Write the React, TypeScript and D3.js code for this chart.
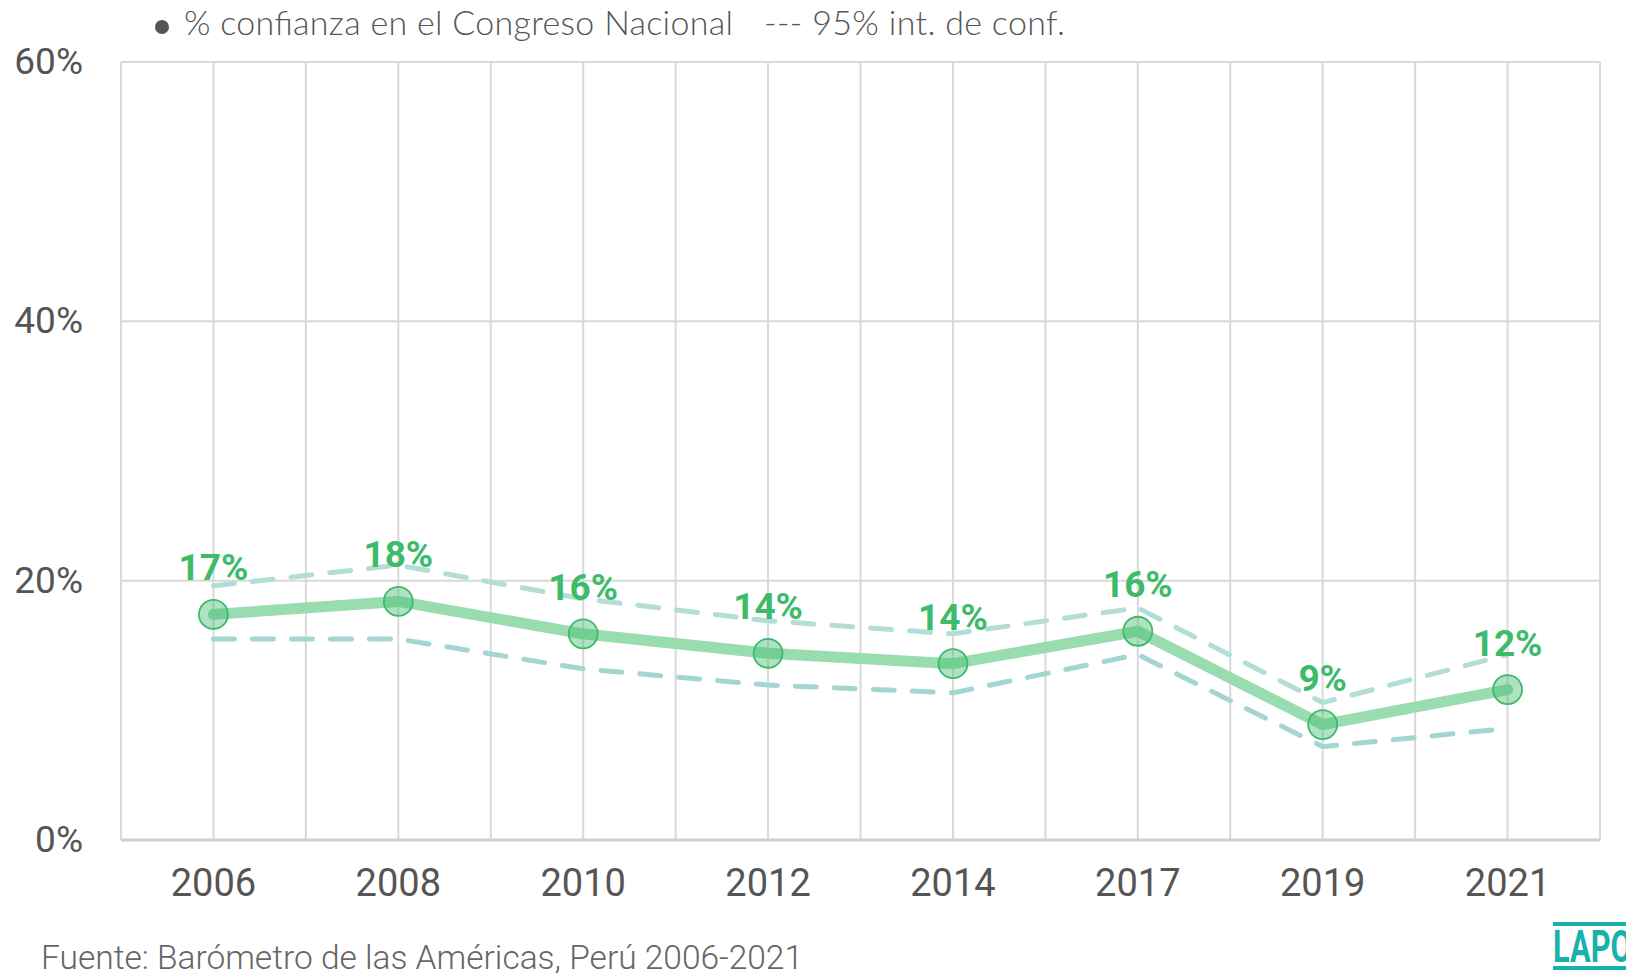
import React from "react";
import * as d3 from "d3";

const years = ["2006", "2008", "2010", "2012", "2014", "2017", "2019", "2021"];
const confianza = [17.4, 18.4, 15.9, 14.4, 13.6, 16.1, 8.9, 11.6];
const upperCI = [19.6, 21.2, 18.6, 16.9, 15.9, 17.9, 10.6, 14.3];
const lowerCI = [15.5, 15.5, 13.2, 11.95, 11.35, 14.3, 7.2, 8.6];
const yTicks = [0, 20, 40, 60];

const W = 1626;
const H = 974;
const M = { left: 121, right: 1600, top: 62, bottom: 840 };

export default function App() {
  const x = d3.scalePoint<string>().domain(years).range([M.left, M.right]).padding(0.5);
  const y = d3.scaleLinear().domain([0, 60]).range([M.bottom, M.top]);
  const half = x.step() / 2;
  const vLines = d3.range(years.length * 2 + 1).map((i) => M.left + i * half);

  const line = d3
    .line<number>()
    .x((_, i) => x(years[i]) as number)
    .y((d) => y(d));

  const green = "#3dbb6b";
  const font = "Roboto, sans-serif";
  const legendFont = "Lato, Roboto, sans-serif";

  return (
    <svg
      width={W}
      height={H}
      style={{ position: "absolute", left: 0, top: 0, background: "#fff" }}
    >
      {/* grid */}
      {vLines.map((vx, i) => (
        <line key={"v" + i} x1={vx} x2={vx} y1={M.top} y2={M.bottom} stroke="#d9d9d9" strokeWidth={2} />
      ))}
      {yTicks.map((t) => (
        <line
          key={"h" + t}
          x1={M.left}
          x2={M.right}
          y1={y(t)}
          y2={y(t)}
          stroke={t === 0 ? "#cfcfcf" : "#d9d9d9"}
          strokeWidth={t === 0 ? 3 : 2}
        />
      ))}
      {yTicks.map((t) => (
        <text
          key={"yl" + t}
          x={83}
          y={y(t) + 12}
          textAnchor="end"
          fontFamily={font}
          fontSize={37}
          fill="#555"
        >
          {t + "%"}
        </text>
      ))}
      {years.map((yr) => (
        <text
          key={"xl" + yr}
          x={x(yr)}
          y={896}
          textAnchor="middle"
          fontFamily={font}
          fontSize={38}
          fill="#555"
        >
          {yr}
        </text>
      ))}

      {/* CI lines */}
      <path
        d={line(upperCI) || ""}
        fill="none"
        stroke="#b3ded8"
        strokeWidth={5}
        strokeDasharray="21 18"
        strokeLinecap="round"
      />
      <path
        d={line(lowerCI) || ""}
        fill="none"
        stroke="#a4d6d1"
        strokeWidth={5}
        strokeDasharray="21 18"
        strokeLinecap="round"
      />

      {/* main line */}
      <path
        d={line(confianza) || ""}
        fill="none"
        stroke="#98dcb0"
        strokeWidth={11}
        strokeLinecap="round"
        strokeLinejoin="round"
      />
      {confianza.map((v, i) => (
        <circle
          key={"c" + i}
          cx={x(years[i])}
          cy={y(v)}
          r={14.5}
          fill="rgba(61,187,107,0.42)"
          stroke={green}
          strokeWidth={1.8}
        />
      ))}
      {confianza.map((v, i) => (
        <text
          key={"lab" + i}
          x={x(years[i])}
          y={y(v) - 34}
          textAnchor="middle"
          fontFamily={font}
          fontWeight={700}
          fontSize={37}
          fill={green}
        >
          {Math.round(v) + "%"}
        </text>
      ))}

      {/* legend */}
      <circle cx={162} cy={27} r={7} fill="#555" />
      <text
        x={184}
        y={35}
        fontFamily={legendFont}
        fontWeight={300}
        fontSize={34}
        fill="#555"
        textLength={549}
        lengthAdjust="spacing"
      >
        % confianza en el Congreso Nacional
      </text>
      <text
        x={764}
        y={35}
        fontFamily={legendFont}
        fontWeight={300}
        fontSize={34}
        fill="#555"
        textLength={301}
        lengthAdjust="spacing"
      >
        --- 95% int. de conf.
      </text>

      {/* footer */}
      <text x={41} y={969} fontFamily={font} fontWeight={300} fontSize={33.5} fill="#666">
        Fuente: Barómetro de las Américas, Perú 2006-2021
      </text>

      {/* logo */}
      <rect x={1553} y={922} width={80} height={4} fill="#19b2ab" />
      <text
        x={1553}
        y={962}
        fontFamily={font}
        fontWeight={700}
        fontSize={44}
        fill="#19b2ab"
        transform="translate(1553,0) scale(0.7,1) translate(-1553,0)"
      >
        LAPOP
      </text>
      <rect x={1553} y={966} width={80} height={4} fill="#19b2ab" />
    </svg>
  );
}
